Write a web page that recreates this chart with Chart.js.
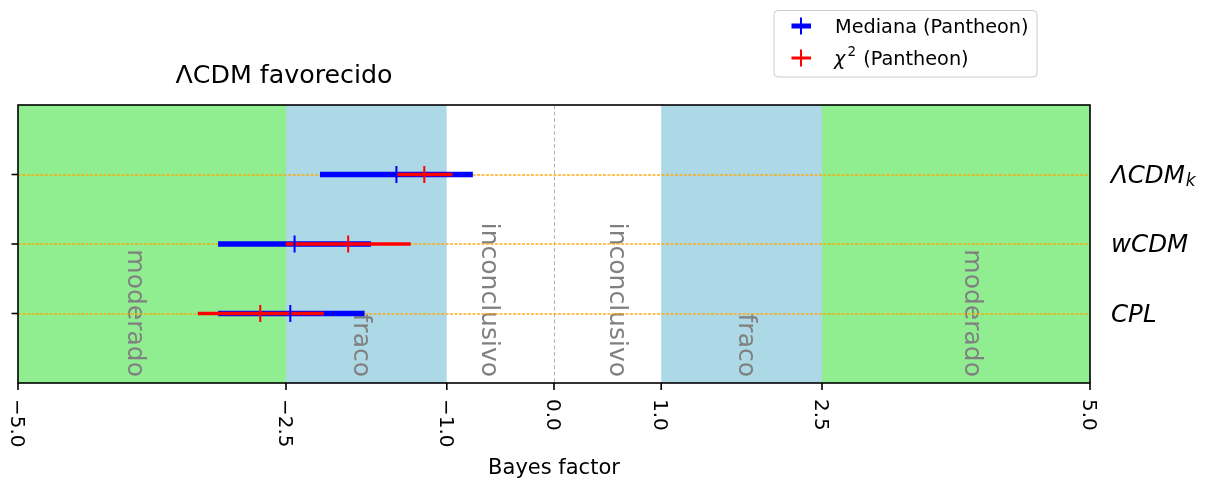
<!DOCTYPE html>
<html>
<head>
<meta charset="utf-8">
<title>Bayes factor</title>
<script src="https://cdn.jsdelivr.net/npm/chart.js@4.4.0/dist/chart.umd.min.js"></script>
<style>
  html, body { margin: 0; padding: 0; background: #fff; }
  #wrap { width: 1211px; height: 481px; position: relative; }
</style>
</head>
<body>
<div id="wrap"><canvas id="bayesChart"></canvas></div>
<script>
// ---- data ----
const models = ["ΛCDM_k", "wCDM", "CPL"];

const medianValue = [-1.47, -2.42, -2.46];
const medianLow = [-2.18, -3.13, -3.13];
const medianHigh = [-0.76, -1.71, -1.77];

const chi2Value = [-1.21, -1.92, -2.74];
const chi2Low = [-1.47, -2.50, -3.32];
const chi2High = [-0.95, -1.34, -2.15];

const xTicks = [-5, -2.5, -1, 0, 1, 2.5, 5];
const bandEdges = [-5, -2.5, -1, 1, 2.5, 5];
const bandLabels = ["moderado", "fraco", "inconclusivo", "inconclusivo", "fraco", "moderado"];

// ---- styling ----
const FONT = "'DejaVu Sans', 'Liberation Sans', sans-serif";
const BLUE = "#0000ff";
const RED = "#ff0000";
const BAND_COLORS = ["#90ee90", "#add8e6", "#ffffff", "#add8e6", "#90ee90"];
const LABEL_X = [-3.97, -1.87, -0.67, 0.52, 1.73, 3.83];

// empty rows above and below give the category axis its margins
const rows = ["", ...models, ""];
const pad = (arr) => [null, ...arr, null];

function fmtTick(v) {
  const s = Math.abs(v).toFixed(1);
  return v < 0 ? "\u2212" + s : s;
}

// coloured regions, region names and guide lines under the error bars
const backdrop = {
  id: "backdrop",
  beforeDatasetsDraw(chart) {
    const { ctx, chartArea: a, scales: { x, y } } = chart;
    ctx.save();

    for (let i = 0; i < BAND_COLORS.length; i++) {
      const x0 = x.getPixelForValue(bandEdges[i]);
      const x1 = x.getPixelForValue(bandEdges[i + 1]);
      ctx.fillStyle = BAND_COLORS[i];
      ctx.fillRect(x0, a.top, x1 - x0, a.bottom - a.top);
    }

    ctx.fillStyle = "#808080";
    ctx.font = "25px " + FONT;
    ctx.textAlign = "right";
    ctx.textBaseline = "alphabetic";
    bandLabels.forEach((t, i) => {
      ctx.save();
      ctx.translate(x.getPixelForValue(LABEL_X[i]), a.bottom - 6);
      ctx.rotate(Math.PI / 2);
      ctx.fillText(t, 0, 0);
      ctx.restore();
    });

    // zero line
    const x0 = Math.floor(x.getPixelForValue(0)) + 0.5;
    ctx.strokeStyle = "rgba(128,128,128,0.6)";
    ctx.lineWidth = 1;
    ctx.setLineDash([4, 2.5]);
    ctx.beginPath();
    ctx.moveTo(x0, a.top);
    ctx.lineTo(x0, a.bottom);
    ctx.stroke();

    // dotted row guides
    ctx.strokeStyle = "rgba(255,165,0,0.9)";
    ctx.lineWidth = 1.5;
    ctx.setLineDash([3, 1.5]);
    models.forEach((m, i) => {
      const py = Math.round(y.getPixelForValue(i + 1));
      ctx.beginPath();
      ctx.moveTo(a.left, py);
      ctx.lineTo(a.right, py);
      ctx.stroke();
    });
    ctx.restore();
  }
};

// frame, ticks, labels, title and legend
const decorations = {
  id: "decorations",
  afterDraw(chart) {
    const { ctx, chartArea: a, scales: { x, y } } = chart;
    ctx.save();
    ctx.strokeStyle = "#000";
    ctx.lineWidth = 1.6;
    ctx.setLineDash([]);
    ctx.strokeRect(a.left, a.top, a.right - a.left, a.bottom - a.top);

    // x ticks and rotated labels
    ctx.fillStyle = "#000";
    ctx.font = "20px " + FONT;
    ctx.textAlign = "left";
    ctx.textBaseline = "alphabetic";
    xTicks.forEach((v) => {
      const px = x.getPixelForValue(v);
      ctx.beginPath();
      ctx.moveTo(px, a.bottom);
      ctx.lineTo(px, a.bottom + 7);
      ctx.stroke();
      ctx.save();
      ctx.translate(px - 7.3, a.bottom + 16);
      ctx.rotate(Math.PI / 2);
      ctx.fillText(fmtTick(v), 0, 0);
      ctx.restore();
    });

    // y ticks on the left, model names on the right
    models.forEach((m, i) => {
      const py = y.getPixelForValue(i + 1);
      ctx.beginPath();
      ctx.moveTo(a.left - 6.5, py);
      ctx.lineTo(a.left, py);
      ctx.stroke();

      const [main, sub] = m.split("_");
      ctx.font = "italic 24.5px " + FONT;
      ctx.fillText(main, a.right + 21, py + 8);
      if (sub) {
        const w = ctx.measureText(main).width;
        ctx.font = "italic 17px " + FONT;
        ctx.fillText(sub, a.right + 21 + w + 1, py + 11.5);
      }
    });

    // axis label and title
    ctx.textAlign = "center";
    ctx.font = "21px " + FONT;
    ctx.fillText("Bayes factor", (a.left + a.right) / 2, 474);
    ctx.font = "25.3px " + FONT;
    ctx.fillText("ΛCDM favorecido", 284, 83);

    // legend
    const lx = 774, ly = 10.5, lw = 263, lh = 66.5;
    ctx.beginPath();
    ctx.roundRect(lx, ly, lw, lh, 4);
    ctx.fillStyle = "rgba(255,255,255,0.8)";
    ctx.fill();
    ctx.strokeStyle = "#cccccc";
    ctx.lineWidth = 1;
    ctx.stroke();

    const entries = [
      { color: BLUE, bar: 5, y: 26 },
      { color: RED, bar: 3, y: 58 }
    ];
    entries.forEach((e) => {
      ctx.strokeStyle = e.color;
      ctx.lineWidth = e.bar;
      ctx.beginPath();
      ctx.moveTo(791.5, e.y);
      ctx.lineTo(811, e.y);
      ctx.stroke();
      ctx.lineWidth = 2;
      ctx.beginPath();
      ctx.moveTo(801, e.y - 8.5);
      ctx.lineTo(801, e.y + 8.5);
      ctx.stroke();
    });

    ctx.fillStyle = "#000";
    ctx.textAlign = "left";
    ctx.font = "19.3px " + FONT;
    ctx.fillText("Mediana (Pantheon)", 835, 33);
    ctx.font = "italic 19.3px " + FONT;
    ctx.fillText("χ", 834, 65);
    let cx = 834 + ctx.measureText("χ").width + 2;
    ctx.font = "13.5px " + FONT;
    ctx.fillText("2", cx, 56);
    cx += ctx.measureText("2").width;
    ctx.font = "19.3px " + FONT;
    ctx.fillText(" (Pantheon)", cx + 1, 65);

    ctx.restore();
  }
};

const markerDefaults = {
  type: "line",
  indexAxis: "y",
  showLine: false,
  pointStyle: "line",
  pointRotation: 90,
  pointRadius: 8.5,
  pointHoverRadius: 8.5,
  pointBorderWidth: 2
};

new Chart(document.getElementById("bayesChart"), {
  type: "bar",
  data: {
    labels: rows,
    datasets: [
      {
        label: "Mediana (Pantheon)",
        data: pad(medianLow.map((lo, i) => [lo, medianHigh[i]])),
        backgroundColor: BLUE,
        barThickness: 5,
        grouped: false,
        borderWidth: 0,
        order: 3
      },
      {
        label: "χ² (Pantheon)",
        data: pad(chi2Low.map((lo, i) => [lo, chi2High[i]])),
        backgroundColor: RED,
        barThickness: 3,
        grouped: false,
        borderWidth: 0,
        order: 2
      },
      {
        ...markerDefaults,
        label: "Mediana",
        data: pad(medianValue),
        borderColor: BLUE,
        pointBorderColor: BLUE,
        order: 1
      },
      {
        ...markerDefaults,
        label: "χ²",
        data: pad(chi2Value),
        borderColor: RED,
        pointBorderColor: RED,
        order: 0
      }
    ]
  },
  options: {
    indexAxis: "y",
    responsive: true,
    maintainAspectRatio: false,
    animation: false,
    devicePixelRatio: 1,
    layout: { padding: { left: 18, right: 121, top: 105, bottom: 98 } },
    scales: {
      x: { type: "linear", min: -5, max: 5, display: false },
      y: { type: "category", offset: false, display: false }
    },
    plugins: {
      legend: { display: false },
      tooltip: { enabled: false }
    }
  },
  plugins: [backdrop, decorations]
});
</script>
</body>
</html>
